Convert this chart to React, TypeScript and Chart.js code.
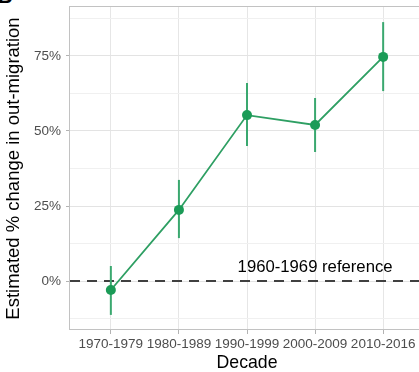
import React, { useEffect, useRef } from "react";
import { Chart, registerables } from "chart.js";

Chart.register(...registerables);

const decades = ["1970-1979", "1980-1989", "1990-1999", "2000-2009", "2010-2016"];
const estimate = [-3, 23.7, 55.3, 52, 74.7];
const lower = [-11.3, 14.3, 45, 43, 63.3];
const upper = [5, 33.7, 66, 61, 86.3];
const yMajorTicks = [0, 25, 50, 75];
const yMinorTicks = [-12.5, 12.5, 37.5, 62.5, 87.5];
const referenceValue = 0;
const referenceLabel = "1960-1969 reference";

const FONT = "'Liberation Sans', Arial, Helvetica, sans-serif";

const overlayPlugin = {
  id: "overlay",
  beforeDatasetsDraw(chart: any) {
    const { ctx, chartArea, scales } = chart;
    const x = scales.x;
    const y = scales.y;
    ctx.save();
    // reference dashed line
    const yRef = y.getPixelForValue(referenceValue);
    ctx.strokeStyle = "#404040";
    ctx.lineWidth = 2;
    ctx.setLineDash([10, 7]);
    ctx.beginPath();
    ctx.moveTo(chartArea.left, yRef);
    ctx.lineTo(chartArea.right, yRef);
    ctx.stroke();
    ctx.setLineDash([]);
    // reference label
    ctx.fillStyle = "#000000";
    ctx.font = `16.7px ${FONT}`;
    ctx.textAlign = "center";
    ctx.textBaseline = "middle";
    ctx.fillText(referenceLabel, x.getPixelForValue(3.0), y.getPixelForValue(4.6));
    // error bars
    ctx.strokeStyle = "#3aa86f";
    ctx.lineWidth = 2;
    for (let i = 0; i < decades.length; i++) {
      const px = x.getPixelForValue(i);
      ctx.beginPath();
      ctx.moveTo(px, y.getPixelForValue(lower[i]));
      ctx.lineTo(px, y.getPixelForValue(upper[i]));
      ctx.stroke();
    }
    ctx.restore();
  },
  afterDraw(chart: any) {
    const { ctx, chartArea } = chart;
    ctx.save();
    ctx.strokeStyle = "#c2c2c2";
    ctx.lineWidth = 1;
    ctx.strokeRect(
      Math.round(chartArea.left) - 0.5,
      Math.round(chartArea.top) - 0.5,
      chartArea.right - chartArea.left,
      chartArea.bottom - chartArea.top
    );
    ctx.restore();
  },
};

export default function App() {
  const ref = useRef<HTMLCanvasElement>(null);
  useEffect(() => {
    if (!ref.current) return;
    const chart = new Chart(ref.current, {
      type: "line",
      data: {
        datasets: [
          {
            data: estimate.map((v, i) => ({ x: i, y: v })),
            borderColor: "#2e9f63",
            backgroundColor: "#1b9b57",
            pointBackgroundColor: "#1b9b57",
            pointBorderColor: "#1b9b57",
            borderWidth: 1.8,
            pointRadius: 5,
            pointBorderWidth: 0,
            tension: 0,
          },
        ],
      },
      plugins: [overlayPlugin],
      options: {
        responsive: false,
        animation: false,
        layout: { autoPadding: false, padding: { left: 0, right: 0, top: 7, bottom: 0 } },
        plugins: {
          legend: { display: false },
          tooltip: { enabled: false },
        },
        scales: {
          x: {
            type: "linear",
            min: -0.6,
            max: 4.6,
            afterBuildTicks: (scale: any) => {
              scale.ticks = decades.map((_, i) => ({ value: i }));
            },
            afterFit: (scale: any) => {
              scale.height = 42;
              scale.paddingLeft = 0;
              scale.paddingRight = 0;
              scale.paddingTop = 0;
              scale.paddingBottom = 0;
            },
            border: { display: false },
            grid: {
              color: "#e6e6e6",
              lineWidth: 1,
              tickColor: "#b3b3b3",
              tickLength: 4,
              drawTicks: true,
            },
            ticks: {
              autoSkip: false,
              maxRotation: 0,
              padding: 2,
              color: "#4d4d4d",
              font: { family: FONT, size: 13.5 },
              callback: (v: any) => decades[Math.round(Number(v))] ?? "",
            },
            title: {
              display: true,
              text: "Decade",
              color: "#000000",
              font: { family: FONT, size: 17.7 },
              padding: { top: 0, bottom: -2 },
            },
          },
          y: {
            type: "linear",
            min: -16.33,
            max: 91.33,
            afterBuildTicks: (scale: any) => {
              const all = [...yMinorTicks, ...yMajorTicks].sort((a, b) => a - b);
              scale.ticks = all.map((v) => ({ value: v }));
            },
            afterFit: (scale: any) => {
              scale.width = 70;
              scale.paddingLeft = 0;
              scale.paddingRight = 0;
              scale.paddingTop = 0;
              scale.paddingBottom = 0;
            },
            border: { display: false },
            grid: {
              color: (c: any) => (yMajorTicks.includes(c.tick?.value) ? "#e3e3e3" : "#f0f0f0"),
              lineWidth: 1,
              tickColor: (c: any) =>
                yMajorTicks.includes(c.tick?.value) ? "#b3b3b3" : "rgba(0,0,0,0)",
              tickLength: 4,
            },
            ticks: {
              autoSkip: false,
              padding: 5,
              color: "#4d4d4d",
              font: { family: FONT, size: 13.5 },
              callback: (v: any) => (yMajorTicks.includes(Number(v)) ? `${v}%` : ""),
            },
            title: {
              display: true,
              text: "Estimated % change in out-migration",
              color: "#000000",
              font: { family: FONT, size: 18.5 },
              padding: { top: 2.5, bottom: 0 },
            },
          },
        },
      },
    });
    return () => chart.destroy();
  }, []);
  return (
    <div
      style={{
        position: "absolute",
        left: 0,
        top: 0,
        width: 419,
        height: 372,
        overflow: "hidden",
        background: "#ffffff",
      }}
    >
      <div
        style={{
          position: "absolute",
          left: -2,
          top: -14,
          fontFamily: FONT,
          fontWeight: "bold",
          fontSize: 20,
          color: "#000",
          lineHeight: "20px",
        }}
      >
        B
      </div>
      <canvas ref={ref} width={424} height={372} style={{ position: "absolute", left: 0, top: 0 }} />
    </div>
  );
}
